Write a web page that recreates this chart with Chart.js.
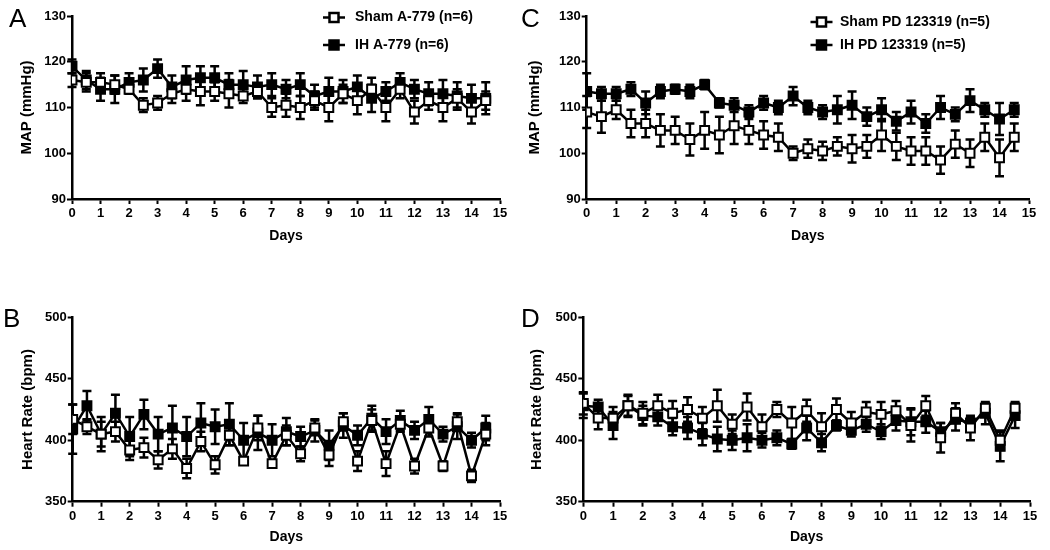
<!DOCTYPE html>
<html>
<head>
<meta charset="utf-8">
<script src="https://cdn.jsdelivr.net/npm/chart.js@4.4.1/dist/chart.umd.min.js"></script>
<style>
  html, body { margin: 0; padding: 0; background: #fff; }
  #page { position: relative; width: 1050px; height: 550px; overflow: hidden; background: #fff; }
  .panel { position: absolute; }
</style>
</head>
<body>
<div id="page">
  <div class="panel" id="pA" style="left:0px;top:0px;width:520px;height:250px;"><canvas id="cA"></canvas></div>
  <div class="panel" id="pC" style="left:520px;top:0px;width:530px;height:250px;"><canvas id="cC"></canvas></div>
  <div class="panel" id="pB" style="left:0px;top:280px;width:520px;height:270px;"><canvas id="cB"></canvas></div>
  <div class="panel" id="pD" style="left:520px;top:280px;width:530px;height:270px;"><canvas id="cD"></canvas></div>
</div>
<script>
// ---------------- DATA ----------------
const days = [0, 0.5, 1, 1.5, 2, 2.5, 3, 3.5, 4, 4.5, 5, 5.5, 6, 6.5, 7, 7.5, 8, 8.5, 9, 9.5, 10, 10.5, 11, 11.5, 12, 12.5, 13, 13.5, 14, 14.5];
const xTickLabels = [0, 1, 2, 3, 4, 5, 6, 7, 8, 9, 10, 11, 12, 13, 14, 15];
const mapTicks = [90, 100, 110, 120, 130];
const hrTicks = [350, 400, 450, 500];

// Panel A: MAP, A-779
const mapShamA779 = [116, 115.5, 115.5, 115, 114, 110.5, 111, 113, 114, 113.5, 113.5, 113, 112.5, 113.5, 110, 110.5, 110, 111.5, 110, 113, 111.5, 114, 110, 114, 109, 111.5, 110, 112, 109, 111.5];
const mapShamA779Err = [1.5, 2, 2, 2, 1, 1.5, 1.5, 2, 2.5, 3, 2, 3, 1.5, 1.5, 2, 2.5, 2.5, 2, 3, 2, 3, 2.5, 3, 2, 2.5, 2, 3, 2, 2.5, 2];
const mapIHA779 = [119, 116, 114, 114, 115.5, 116, 118.5, 114.5, 116, 116.5, 116.5, 115, 115, 114.5, 115, 114, 115, 112.5, 113.5, 113.5, 114.5, 112, 113.5, 115.5, 114, 113, 113, 112.5, 112, 112];
const mapIHA779Err = [1.5, 2, 2.5, 3, 2, 2.5, 2, 2.5, 3, 2.5, 2.5, 2.5, 3, 2.5, 2.5, 2, 2.5, 2.5, 3, 2.5, 2.5, 3, 2, 2, 2, 2.5, 3, 3, 3, 3.5];

// Panel C: MAP, PD 123319
const mapShamPD = [109, 108, 109.5, 106.5, 106.5, 105, 105, 103, 105, 104, 106, 105, 104, 103.5, 100, 101, 100.5, 101.5, 101, 101.5, 104, 101.5, 100.5, 100.5, 98.5, 102, 100, 103.5, 99, 103.5];
const mapShamPDErr = [3.5, 3.5, 2, 3, 3, 3.5, 3, 3.5, 4, 4, 4, 3, 3, 3, 1.5, 2, 2, 2, 3, 2.5, 3.5, 3, 3, 3, 3, 3, 3, 3, 4, 3];
const mapIHPD = [113.5, 113, 113, 114, 111, 113.5, 114, 113.5, 115, 111, 110.5, 109, 111, 110, 112.5, 110, 109, 109.5, 110.5, 108, 109.5, 107, 109, 106.5, 110, 108.5, 111.5, 109.5, 107.5, 109.5];
const mapIHPDErr = [4, 1.5, 1.5, 1.5, 2.5, 1.5, 1, 1.5, 1, 1, 1.5, 1.5, 1.5, 1.5, 2, 1.5, 1.5, 3, 3, 2, 2.5, 2, 2.5, 2, 2.5, 1.5, 2.5, 1.5, 3.5, 1.5];

// Panel B: Heart rate, A-779
const hrShamA779 = [417, 411, 405, 407, 392, 394, 384, 393, 377, 399, 380, 404, 383, 410, 381, 404, 389, 410, 388, 415, 383, 416, 381, 413, 379, 410, 379, 415, 371, 405];
const hrShamA779Err = [12, 6, 10, 8, 8, 8, 7, 8, 8, 8, 7, 8, 3, 10, 3, 8, 6, 6, 9, 7, 8, 9, 10, 6, 6, 7, 4, 7, 5, 9];
const hrIHA779 = [409, 428, 405, 422, 403, 421, 405, 410, 403, 414, 411, 413, 400, 406, 400, 407, 403, 408, 396, 412, 404, 418, 407, 416, 408, 417, 405, 411, 400, 410];
const hrIHA779Err = [20, 12, 14, 15, 16, 12, 14, 18, 16, 16, 14, 17, 14, 14, 13, 11, 8, 9, 12, 10, 8, 10, 10, 8, 7, 10, 6, 10, 6, 10];

// Panel D: Heart rate, PD 123319
const hrShamPD = [430, 418, 418, 428, 422, 428, 422, 425, 418, 428, 413, 427, 411, 425, 414, 424, 411, 425, 414, 423, 421, 424, 412, 428, 402, 422, 410, 426, 400, 426];
const hrShamPDErr = [9, 9, 9, 8, 9, 9, 10, 10, 9, 13, 8, 11, 10, 6, 13, 9, 11, 9, 9, 8, 10, 8, 13, 8, 12, 8, 10, 4, 8, 5];
const hrIHPD = [428, 427, 412, 428, 420, 419, 411, 410, 405, 401, 400, 402, 400, 402, 397, 410, 398, 412, 408, 413, 407, 416, 415, 415, 407, 417, 414, 422, 395, 420];
const hrIHPDErr = [10, 6, 11, 9, 8, 7, 7, 9, 9, 10, 8, 11, 6, 6, 4, 10, 7, 4, 5, 6, 6, 8, 11, 9, 7, 9, 5, 9, 12, 10];

const seriesNames = {
  shamA: 'Sham A-779 (n=6)', ihA: 'IH A-779 (n=6)',
  shamPD: 'Sham PD 123319 (n=5)', ihPD: 'IH PD 123319 (n=5)'
};

// ---------------- RENDERING ----------------
const FONT = '"Liberation Sans", Arial, sans-serif';

const errorBarPlugin = {
  id: 'errorBars',
  beforeDatasetDraw(chart, args) {
    const ds = chart.data.datasets[args.index];
    if (!ds.errors) return;
    const xs = chart.scales.x, ys = chart.scales.y;
    const ctx = chart.ctx;
    ctx.save();
    ctx.strokeStyle = '#000';
    ctx.lineWidth = 2.5;
    const cap = 4.5;
    ds.data.forEach((p, i) => {
      const e = ds.errors[i];
      const px = xs.getPixelForValue(p.x);
      const yt = ys.getPixelForValue(p.y + e);
      const yb = ys.getPixelForValue(p.y - e);
      ctx.beginPath();
      ctx.moveTo(px, yt); ctx.lineTo(px, yb);
      ctx.moveTo(px - cap, yt); ctx.lineTo(px + cap, yt);
      ctx.moveTo(px - cap, yb); ctx.lineTo(px + cap, yb);
      ctx.stroke();
    });
    ctx.restore();
  }
};

const decorPlugin = {
  id: 'decor',
  afterDraw(chart, args, opts) {
    const ctx = chart.ctx;
    ctx.save();
    ctx.fillStyle = '#000';
    ctx.font = '26px ' + FONT;
    ctx.textBaseline = 'alphabetic';
    ctx.textAlign = 'left';
    ctx.fillText(opts.letter, opts.letterX, opts.letterY);
    if (opts.legend) {
      const lg = opts.legend;
      chart.data.datasets.forEach((ds, i) => {
        const y = lg.rows[i];
        ctx.strokeStyle = '#000';
        ctx.lineWidth = 2.5;
        ctx.beginPath();
        ctx.moveTo(lg.mx - 11, y); ctx.lineTo(lg.mx + 11, y);
        ctx.stroke();
        ctx.fillStyle = ds.pointBackgroundColor;
        ctx.fillRect(lg.mx - 4.5, y - 4.5, 9, 9);
        ctx.strokeRect(lg.mx - 4.5, y - 4.5, 9, 9);
        ctx.fillStyle = '#000';
        ctx.font = 'bold 14px ' + FONT;
        ctx.textBaseline = 'middle';
        ctx.fillText(ds.label, lg.tx, y);
      });
    }
    ctx.restore();
  }
};

function makeDataset(label, vals, errs, filled) {
  return {
    label: label,
    data: days.map((d, i) => ({ x: d, y: vals[i] })),
    errors: errs,
    borderColor: '#000',
    borderWidth: 2.5,
    pointStyle: 'rect',
    pointRadius: 6.3,
    pointHoverRadius: 6.3,
    pointBorderWidth: 2,
    pointBorderColor: '#000',
    pointBackgroundColor: filled ? '#000' : '#fff',
    backgroundColor: filled ? '#000' : '#fff',
    fill: false,
    tension: 0
  };
}

function makePanel(cfg) {
  const tickFont = { family: FONT, size: 13, weight: 'bold' };
  const xTitleFont = { family: FONT, size: 14, weight: 'bold' };
  const yTitleFont = { family: FONT, size: 15, weight: 'bold' };
  return new Chart(document.getElementById(cfg.canvas), {
    type: 'line',
    data: { datasets: cfg.datasets },
    options: {
      responsive: true,
      maintainAspectRatio: false,
      animation: false,
      events: [],
      layout: { padding: { top: cfg.padTop, right: cfg.padRight, bottom: 0, left: 0 } },
      plugins: {
        legend: { display: false },
        tooltip: { enabled: false },
        decor: { letter: cfg.letter, letterX: cfg.letterX, letterY: cfg.letterY, legend: cfg.legend }
      },
      scales: {
        x: {
          type: 'linear',
          min: xTickLabels[0],
          max: xTickLabels[xTickLabels.length - 1],
          afterBuildTicks(scale) { scale.ticks = xTickLabels.map(v => ({ value: v })); },
          afterFit(scale) { scale.height = cfg.xH; },
          ticks: { color: '#000', font: tickFont, autoSkip: false, maxRotation: 0, padding: 2 },
          grid: { display: true, drawOnChartArea: false, drawTicks: true, tickLength: 5, tickColor: '#000', tickWidth: 2 },
          border: { display: true, color: '#000', width: 2.5 },
          title: { display: true, text: 'Days', color: '#000', font: xTitleFont, padding: { top: 0, bottom: cfg.xTitlePad } }
        },
        y: {
          type: 'linear',
          min: cfg.yTicks[0],
          max: cfg.yTicks[cfg.yTicks.length - 1],
          afterBuildTicks(scale) { scale.ticks = cfg.yTicks.map(v => ({ value: v })); },
          afterFit(scale) { scale.width = cfg.yW; },
          ticks: { color: '#000', font: tickFont, padding: 1 },
          grid: { display: true, drawOnChartArea: false, drawTicks: true, tickLength: 5, tickColor: '#000', tickWidth: 2 },
          border: { display: true, color: '#000', width: 2.5 },
          title: { display: true, text: cfg.yTitle, color: '#000', font: yTitleFont, padding: { top: cfg.yTitlePad, bottom: 0 } }
        }
      }
    },
    plugins: [errorBarPlugin, decorPlugin]
  });
}

makePanel({
  canvas: 'cA', letter: 'A', letterX: 9, letterY: 27,
  datasets: [makeDataset(seriesNames.shamA, mapShamA779, mapShamA779Err, false), makeDataset(seriesNames.ihA, mapIHA779, mapIHA779Err, true)],
  yTicks: mapTicks, yTitle: 'MAP (mmHg)',
  padTop: 16, padRight: 20, xH: 51, yW: 72, yTitlePad: 18, xTitlePad: 5.5,
  legend: { mx: 334, tx: 355, rows: [17.5, 45] }
});
makePanel({
  canvas: 'cC', letter: 'C', letterX: 1, letterY: 27,
  datasets: [makeDataset(seriesNames.shamPD, mapShamPD, mapShamPDErr, false), makeDataset(seriesNames.ihPD, mapIHPD, mapIHPDErr, true)],
  yTicks: mapTicks, yTitle: 'MAP (mmHg)',
  padTop: 16, padRight: 21, xH: 51, yW: 66.7, yTitlePad: 6, xTitlePad: 5,
  legend: { mx: 301.5, tx: 320, rows: [22, 45] }
});
makePanel({
  canvas: 'cB', letter: 'B', letterX: 3, letterY: 47,
  datasets: [makeDataset(seriesNames.shamA, hrShamA779, hrShamA779Err, false), makeDataset(seriesNames.ihA, hrIHA779, hrIHA779Err, true)],
  yTicks: hrTicks, yTitle: 'Heart Rate (bpm)',
  padTop: 37.3, padRight: 20, xH: 48.3, yW: 72.7, yTitlePad: 19, xTitlePad: 4.6,
  legend: null
});
makePanel({
  canvas: 'cD', letter: 'D', letterX: 1, letterY: 47,
  datasets: [makeDataset(seriesNames.shamPD, hrShamPD, hrShamPDErr, false), makeDataset(seriesNames.ihPD, hrIHPD, hrIHPDErr, true)],
  yTicks: hrTicks, yTitle: 'Heart Rate (bpm)',
  padTop: 37.3, padRight: 20, xH: 48.3, yW: 63.3, yTitlePad: 7.8, xTitlePad: 4.6,
  legend: null
});
</script>
</body>
</html>
